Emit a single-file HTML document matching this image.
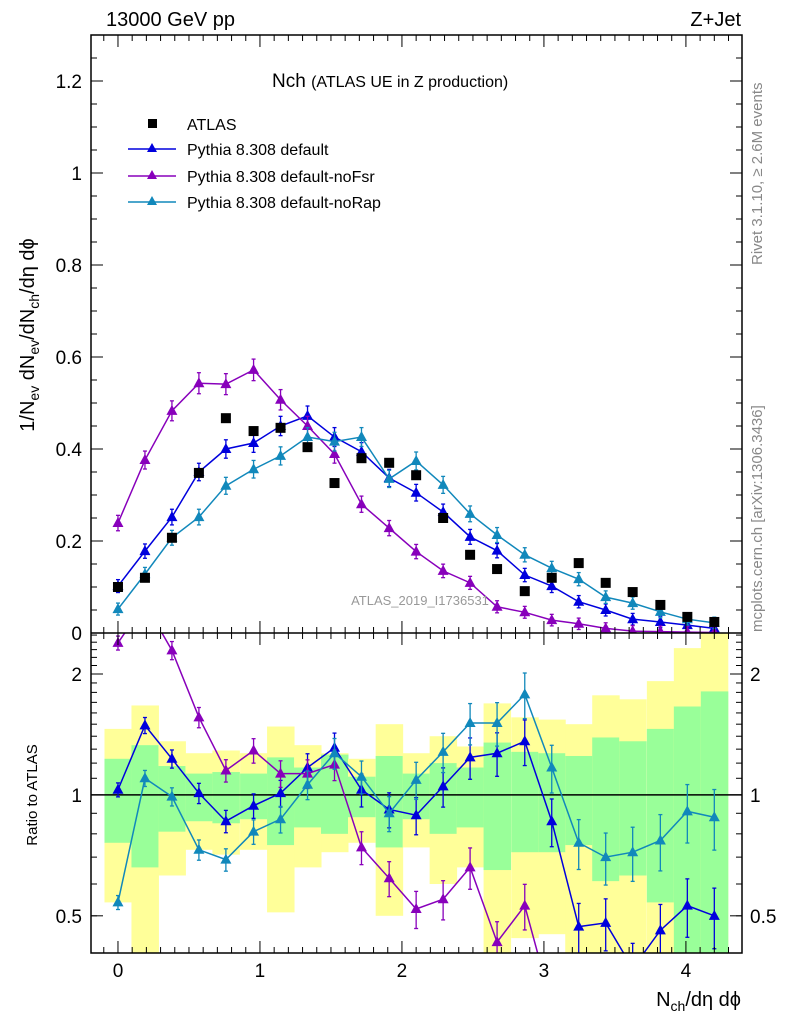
<!DOCTYPE html>
<html><head><meta charset="utf-8"><style>
html,body{margin:0;padding:0;background:#fff;width:786px;height:1024px;overflow:hidden;}
svg{display:block;font-family:"Liberation Sans",sans-serif;}
</style></head><body>
<svg id="c" width="786" height="1024" viewBox="0 0 786 1024" xmlns="http://www.w3.org/2000/svg">
<g id="bands"></g>
<g id="marks"></g>
<g id="axes"></g>
<text x="106" y="26" font-size="20">13000 GeV pp</text>
<text x="741" y="26" font-size="20" text-anchor="end">Z+Jet</text>
<text x="272" y="87" font-size="19">Nch <tspan font-size="16">(ATLAS UE in Z production)</tspan></text>
<g>
<g><rect x="148" y="119" width="9" height="9" fill="#000"/><text x="187" y="130" font-size="16">ATLAS</text></g>
<g><line x1="128" y1="149" x2="176" y2="149" stroke="#0000dd" stroke-width="1.5"/><path d="M152,143 L157,152 L147,152Z" fill="#0000dd"/><text x="187" y="155" font-size="16">Pythia 8.308 default</text></g>
<g><line x1="128" y1="176" x2="176" y2="176" stroke="#8800bb" stroke-width="1.5"/><path d="M152,170 L157,179 L147,179Z" fill="#8800bb"/><text x="187" y="182" font-size="16">Pythia 8.308 default-noFsr</text></g>
<g><line x1="128" y1="202" x2="176" y2="202" stroke="#1188bb" stroke-width="1.5"/><path d="M152,196 L157,205 L147,205Z" fill="#1188bb"/><text x="187" y="208" font-size="16">Pythia 8.308 default-noRap</text></g>
</g>
<text x="420" y="605" font-size="13" fill="#999" text-anchor="middle">ATLAS_2019_I1736531</text>
<text transform="translate(762,265) rotate(-90)" font-size="15" fill="#888">Rivet 3.1.10, ≥ 2.6M events</text>
<text transform="translate(762,632) rotate(-90)" font-size="15" fill="#888">mcplots.cern.ch [arXiv:1306.3436]</text>
<text transform="translate(34,335) rotate(-90)" font-size="20" text-anchor="middle">1/N<tspan font-size="14" dy="5">ev</tspan><tspan dy="-5"> dN</tspan><tspan font-size="14" dy="5">ev</tspan><tspan dy="-5">/dN</tspan><tspan font-size="14" dy="5">ch</tspan><tspan dy="-5">/dη dϕ</tspan></text>
<text transform="translate(37,795) rotate(-90)" font-size="15" text-anchor="middle">Ratio to ATLAS</text>
<text x="741" y="1006" font-size="20" text-anchor="end">N<tspan font-size="14" dy="5">ch</tspan><tspan dy="-5">/dη dϕ</tspan></text>
</svg>
<script>
const xs = [0,0.19,0.38,0.57,0.76,0.955,1.145,1.335,1.525,1.715,1.91,2.1,2.29,2.48,2.67,2.865,3.055,3.245,3.435,3.625,3.82,4.01,4.2];
const atlas = [0.100,0.120,0.207,0.348,0.467,0.439,0.446,0.404,0.326,0.380,0.370,0.343,0.250,0.170,0.139,0.091,0.120,0.152,0.109,0.089,0.061,0.035,0.024];
const pDefault = [0.102,0.178,0.252,0.350,0.400,0.413,0.450,0.472,0.426,0.394,0.337,0.305,0.263,0.209,0.179,0.126,0.102,0.068,0.050,0.030,0.024,0.017,0.010];
const pNoFsr = [0.239,0.376,0.483,0.543,0.541,0.572,0.507,0.450,0.389,0.280,0.228,0.177,0.135,0.109,0.057,0.045,0.028,0.020,0.010,0.004,0.003,0.002,0.001];
const pNoRap = [0.052,0.128,0.207,0.252,0.320,0.356,0.385,0.426,0.416,0.426,0.335,0.374,0.322,0.259,0.213,0.170,0.141,0.117,0.078,0.065,0.046,0.030,0.022];
const rDefault = [1.03,1.49,1.23,1.01,0.86,0.94,1.01,1.17,1.31,1.03,0.92,0.89,1.05,1.24,1.27,1.36,0.86,0.47,0.48,0.37,0.46,0.53,0.50];
const rNoFsr = [2.39,3.0,2.29,1.56,1.15,1.29,1.13,1.13,1.19,0.74,0.62,0.52,0.55,0.66,0.43,0.53,0.30,0.2,0.2,0.2,0.2,0.2,0.2];
const rNoRap = [0.54,1.10,0.99,0.73,0.69,0.81,0.87,1.06,1.27,1.11,0.90,1.09,1.28,1.51,1.51,1.78,1.17,0.76,0.70,0.72,0.77,0.91,0.88];
const yelHi = [1.46,1.67,1.36,1.27,1.29,1.27,1.48,1.33,1.27,1.23,1.50,1.27,1.40,1.32,1.69,1.56,1.54,1.50,1.77,1.73,1.92,2.32,2.7];
const yelLo = [0.54,0.3,0.63,0.73,0.71,0.73,0.51,0.66,0.72,0.76,0.50,0.74,0.60,0.66,0.3,0.44,0.45,0.3,0.3,0.3,0.3,0.3,0.3];
const grnHi = [1.23,1.33,1.18,1.13,1.14,1.13,1.24,1.17,1.26,1.11,1.25,1.13,1.20,1.17,1.35,1.28,1.27,1.25,1.39,1.36,1.46,1.66,1.81];
const grnLo = [0.76,0.66,0.81,0.86,0.85,0.87,0.75,0.83,0.80,0.88,0.74,0.87,0.80,0.83,0.65,0.72,0.72,0.75,0.61,0.63,0.54,0.3,0.3];
const mainTicks = ["0","0.2","0.4","0.6","0.8","1","1.2"];
const xTicks = ["0","1","2","3","4"];

const L=91,R=742,T=35,MB=633,RB=953;
const X0=-0.19,X1=4.395;
const sx=v=>L+(v-X0)/(X1-X0)*(R-L);
const sy=v=>MB-v*(MB-T)/1.3;
const LR0=Math.log10(0.404),LR1=Math.log10(2.53);
const sr=v=>RB-(Math.log10(v)-LR0)/(LR1-LR0)*(RB-MB);
const NS="http://www.w3.org/2000/svg";
function mk(tag,attrs,parent){const e=document.createElementNS(NS,tag);for(const k in attrs)e.setAttribute(k,attrs[k]);parent.appendChild(e);return e;}
const bands=document.getElementById('bands'),marks=document.getElementById('marks'),axes=document.getElementById('axes');
const hw=(sx(0.19)-sx(0))/2;

const clipR=mk('clipPath',{id:'cr'},document.getElementById('c'));mk('rect',{x:L,y:MB,width:R-L,height:RB-MB},clipR);
const clipM=mk('clipPath',{id:'cm'},document.getElementById('c'));mk('rect',{x:L,y:T,width:R-L,height:MB-T},clipM);
bands.setAttribute('clip-path','url(#cr)');
xs.forEach((x,i)=>{
  const y=mk('rect',{x:sx(x)-hw,y:sr(yelHi[i]),width:2*hw+0.5,height:sr(yelLo[i])-sr(yelHi[i]),fill:'#ffff99'},bands);
  
  
  const g=mk('rect',{x:sx(x)-hw,y:sr(grnHi[i]),width:2*hw+0.5,height:sr(grnLo[i])-sr(grnHi[i]),fill:'#99ff99'},bands);
  
  
});
mk('line',{x1:L,x2:R,y1:sr(1),y2:sr(1),stroke:'#000','stroke-width':1.5},bands);

function series(vals,fy,color,clip,name,errFrac){
  const g=mk('g',{'clip-path':clip},marks);
  
  
  mk('polyline',{points:vals.map((v,i)=>sx(xs[i])+','+fy(v)).join(' '),fill:'none',stroke:color,'stroke-width':1.5},g);
  vals.forEach((v,i)=>{
    const cx=sx(xs[i]),cy=fy(v);
    const e=errFrac(v,i);
    const y1=fy(v+e),y2=fy(Math.max(v-e,0.0001));
    mk('line',{x1:cx,x2:cx,y1:y1,y2:y2,stroke:color,'stroke-width':1.3},g);
    mk('line',{x1:cx-2,x2:cx+2,y1:y1,y2:y1,stroke:color,'stroke-width':1.3},g);
    mk('line',{x1:cx-2,x2:cx+2,y1:y2,y2:y2,stroke:color,'stroke-width':1.3},g);
    const t=mk('path',{d:`M${cx},${cy-6} L${cx+5.5},${cy+4} L${cx-5.5},${cy+4}Z`,fill:color},g);
    
    
  });
}
const eM=(v)=>0.012+v*0.02;
const eR=(v,i)=>v*(0.04+i*0.006);
series(pDefault,sy,'#0000dd','url(#cm)','default-main',eM);
series(pNoFsr,sy,'#8800bb','url(#cm)','nofsr-main',eM);
series(pNoRap,sy,'#1188bb','url(#cm)','norap-main',eM);
series(rDefault,sr,'#0000dd','url(#cr)','default-ratio',eR);
series(rNoFsr,sr,'#8800bb','url(#cr)','nofsr-ratio',eR);
series(rNoRap,sr,'#1188bb','url(#cr)','norap-ratio',eR);
atlas.forEach((v,i)=>{
  const r=mk('rect',{x:sx(xs[i])-5,y:sy(v)-5,width:10,height:10,fill:'#000'},marks);
  
  
});

mk('rect',{x:L,y:T,width:R-L,height:RB-T,fill:'none',stroke:'#000','stroke-width':1.5},axes);
mk('line',{x1:L,x2:R,y1:MB,y2:MB,stroke:'#000','stroke-width':1.5},axes);
mainTicks.forEach((t,i)=>{
  const v=i*0.2,y=sy(v);
  mk('line',{x1:L,x2:L+12,y1:y,y2:y,stroke:'#000'},axes);
  mk('line',{x1:R-12,x2:R,y1:y,y2:y,stroke:'#000'},axes);
  const tx=mk('text',{x:82,y:y+7,'font-size':19,'text-anchor':'end'},axes);tx.textContent=t;
  
  
});
for(let v=0.05;v<1.3;v+=0.05){const y=sy(v);mk('line',{x1:L,x2:L+6,y1:y,y2:y,stroke:'#000'},axes);mk('line',{x1:R-6,x2:R,y1:y,y2:y,stroke:'#000'},axes);}
[[2,'2'],[1,'1'],[0.5,'0.5']].forEach(([v,t])=>{
  const y=sr(v);
  mk('line',{x1:L,x2:L+12,y1:y,y2:y,stroke:'#000'},axes);
  mk('line',{x1:R-12,x2:R,y1:y,y2:y,stroke:'#000'},axes);
  const a=mk('text',{x:82,y:y+7,'font-size':19,'text-anchor':'end'},axes);a.textContent=t;
  
  
  const b=mk('text',{x:750,y:y+7,'font-size':19},axes);b.textContent=t;
  
  
});
[0.5,0.6,0.7,0.8,0.9,1.1,1.2,1.3,1.4,1.5,1.6,1.7,1.8,1.9,2.1,2.2,2.3,2.4,2.5].forEach(v=>{const y=sr(v);mk('line',{x1:L,x2:L+6,y1:y,y2:y,stroke:'#000'},axes);mk('line',{x1:R-6,x2:R,y1:y,y2:y,stroke:'#000'},axes);});
for(let k=-1;k<=43;k++){const v=k/10;if(v<X0||v>X1)continue;const x=sx(v);const len=(k%10===0)?12:6;
  [T,MB].forEach(y0=>mk('line',{x1:x,x2:x,y1:y0,y2:y0+len,stroke:'#000'},axes));
  mk('line',{x1:x,x2:x,y1:MB-len,y2:MB,stroke:'#000'},axes);
  mk('line',{x1:x,x2:x,y1:RB-len,y2:RB,stroke:'#000'},axes);}
xTicks.forEach((t,i)=>{const a=mk('text',{x:sx(i),y:977,'font-size':19,'text-anchor':'middle'},axes);a.textContent=t;
  
  });
</script>
</body></html>
